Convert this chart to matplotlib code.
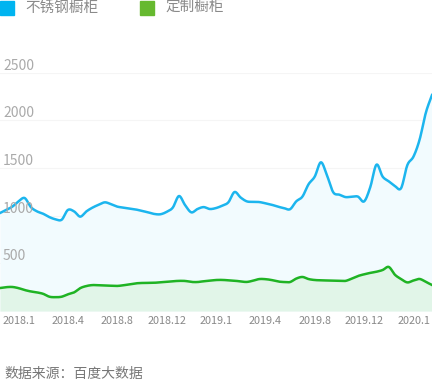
import numpy as np
import matplotlib
matplotlib.use("Agg")
import matplotlib.pyplot as plt
from matplotlib.patches import Rectangle

plt.rcParams['font.family'] = ['Noto Sans CJK SC', 'DejaVu Sans']

series_names = ["不锈钢橱柜", "定制橱柜"]
stainless = [1028, 1060, 1095, 1150, 1185, 1090, 1045, 1020, 985, 962,
             958, 1060, 1045, 990, 1045, 1085, 1115, 1140, 1120, 1095,
             1085, 1075, 1065, 1050, 1035, 1018, 1015, 1040, 1085, 1206,
             1110, 1035, 1070, 1090, 1070, 1080, 1105, 1140, 1248, 1190,
             1150, 1145, 1143, 1130, 1115, 1095, 1080, 1068, 1150, 1200,
             1330, 1410, 1560, 1420, 1245, 1220, 1195, 1200, 1200, 1150,
             1300, 1535, 1410, 1360, 1310, 1290, 1530, 1620, 1800, 2080,
             2266]
custom = [241, 250, 252, 240, 220, 205, 195, 180, 150, 145,
          150, 175, 195, 240, 262, 272, 270, 268, 265, 263,
          270, 280, 290, 294, 295, 296, 302, 306, 312, 316,
          315, 305, 304, 312, 318, 325, 326, 322, 318, 310,
          305, 318, 335, 334, 325, 310, 304, 304, 340, 357,
          335, 325, 322, 320, 318, 316, 316, 340, 367, 385,
          400, 412, 430, 462, 380, 335, 300, 320, 336, 305,
          273]
tick_labels = ["2018.1", "2018.4", "2018.8", "2018.12", "2019.1",
               "2019.4", "2019.8", "2019.12", "2020.1"]
tick_index = [3, 11, 19, 27, 35, 43, 51, 59, 67]
y_ticks = [500, 1000, 1500, 2000, 2500]
source_text = "数据来源：百度大数据"


def smooth(x, y, n=12):
    x = np.asarray(x, float)
    y = np.asarray(y, float)
    px = np.concatenate([[2 * x[0] - x[1]], x, [2 * x[-1] - x[-2]]])
    py = np.concatenate([[2 * y[0] - y[1]], y, [2 * y[-1] - y[-2]]])
    xs, ys = [], []
    t = np.linspace(0, 1, n, endpoint=False)
    for i in range(1, len(px) - 2):
        p0, p1, p2, p3 = py[i - 1], py[i], py[i + 1], py[i + 2]
        q0, q1, q2, q3 = px[i - 1], px[i], px[i + 1], px[i + 2]
        yy = 0.5 * (2 * p1 + (-p0 + p2) * t + (2 * p0 - 5 * p1 + 4 * p2 - p3) * t ** 2
                    + (-p0 + 3 * p1 - 3 * p2 + p3) * t ** 3)
        xx = 0.5 * (2 * q1 + (-q0 + q2) * t + (2 * q0 - 5 * q1 + 4 * q2 - q3) * t ** 2
                    + (-q0 + 3 * q1 - 3 * q2 + q3) * t ** 3)
        xs.append(xx)
        ys.append(yy)
    xs.append([x[-1]])
    ys.append([y[-1]])
    return np.concatenate(xs), np.concatenate(ys)


W, H = 432, 385
fig = plt.figure(figsize=(W / 100, H / 100), dpi=100)
bottom_px, top_px = 311, 72.7
ax = fig.add_axes([0, 1 - bottom_px / H, 1, (bottom_px - top_px) / H])
n = len(stainless)
idx = np.arange(n)
ax.set_xlim(0, n - 1)
ax.set_ylim(0, 2500)
for s in ax.spines.values():
    s.set_visible(False)
ax.set_xticks([])
ax.set_yticks([])

for v in y_ticks:
    ax.axhline(v, color="#f5f5f5", lw=0.8, zorder=0)

bx, by = smooth(idx, stainless)
gx, gy = smooth(idx, custom)
blue_line = "#1cb5ee"
green_line = "#1fb324"
ax.fill_between(bx, 0, by, color="#f2fbfe", zorder=1, lw=0)
ax.plot(bx, by, color=blue_line, lw=1.8, zorder=3, clip_on=False)
ax.fill_between(gx, 0, gy, color="#e1f5e8", zorder=2, lw=0)
ax.plot(gx, gy, color=green_line, lw=1.8, zorder=4, clip_on=False)

for v in y_ticks:
    ax.annotate(str(v), xy=(0, v), xycoords=("axes fraction", "data"),
                xytext=(3, 7), textcoords="offset pixels",
                ha="left", va="center", fontsize=10, color="#aaaaaa", zorder=5)

for i, lab in zip(tick_index, tick_labels):
    ax.annotate(lab, xy=(i, 0), xycoords="data", xytext=(0, -10),
                textcoords="offset pixels", ha="center", va="center",
                fontsize=7.8, color="#888888", annotation_clip=False)

# legend
leg_colors = ["#00b4f0", "#66b92f"]
leg_x = [0, 140]
for name, c, x0 in zip(series_names, leg_colors, leg_x):
    fig.patches.append(Rectangle((x0 / W, 1 - 15 / H), 14 / W, 14 / H,
                                 transform=fig.transFigure, color=c))
    fig.text((x0 + 25) / W, 1 - 8 / H, name, ha="left", va="center",
             fontsize=10.5, color="#8a8a8a")

fig.text(4 / W, 1 - 374 / H, source_text, ha="left", va="center",
         fontsize=10, color="#777777")

fig.savefig("out.png", dpi=100, facecolor="white")
